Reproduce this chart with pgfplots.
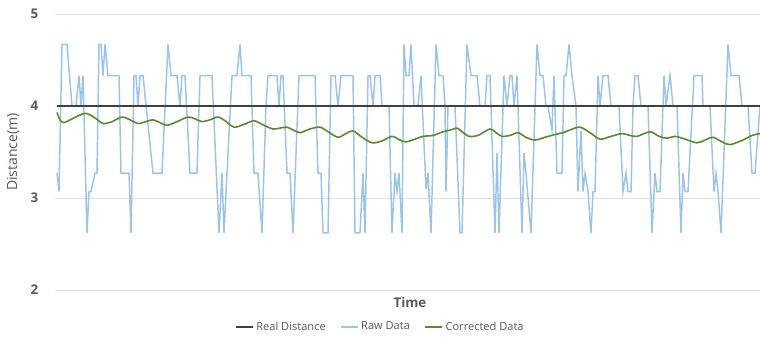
\documentclass[border=0pt]{standalone}
\usepackage{fontspec}
\setmainfont{Open Sans}
\usepackage{pgfplots}
\pgfplotsset{compat=1.18}
\definecolor{rawc}{HTML}{9DC3E6}
\definecolor{corc}{HTML}{5B8A2D}
\definecolor{realc}{HTML}{404040}
\definecolor{gridc}{HTML}{E3E3E3}
\definecolor{txtc}{HTML}{595959}
\begin{document}
\begin{tikzpicture}
\begin{axis}[
  at={(0,0)}, anchor=south west,
  scale only axis, width=528.75pt, height=207pt,
  xmin=55, xmax=760, ymin=2, ymax=5,
  ytick={2,3,4,5}, xtick=\empty,
  axis line style={draw=none},
  major tick length=0pt,
  ymajorgrids, grid style={gridc, line width=0.6pt},
  /pgf/number format/assume math mode=true,
  yticklabel style={font=\fontsize{10}{11}\selectfont\bfseries, text=txtc, anchor=east, xshift=-9pt},
  ylabel={Distance(m)},
  ylabel style={at={(axis description cs:-0.0596,0.5)}, anchor=center, font=\fontsize{10.5}{12}\selectfont, text=txtc},
  xlabel={Time},
  xlabel style={at={(axis description cs:0.5035,-0.047)}, anchor=center, font=\fontsize{10}{11}\selectfont\bfseries, text=txtc},
  legend columns=3,
  legend style={at={(axis description cs:0.462,-0.134)}, anchor=center, draw=none, fill=none,
    font=\fontsize{8.3}{9}\selectfont, text=txtc,
    /tikz/every even column/.append style={column sep=9pt}},
  legend image code/.code={\draw[#1] (0pt,0pt) -- (12.5pt,0pt);},
]
\addplot[rawc, line width=1.1pt, forget plot] coordinates {
(57,3.27)(59,3.07)(62,4.67)(67,4.67)(72,4.0)(76,4.0)(79,4.33)(81,4.0)(83,4.33)(87,2.62)
(89,3.07)(91,3.07)(95,3.27)(97,3.27)(99,4.67)(101,4.67)(103,4.33)(105,4.67)(108,4.33)(119,4.33)
(121,3.27)(129,3.27)(131,2.62)(134,4.33)(136,4.33)(138,4.0)(140,4.33)(143,4.33)(153,3.27)(162,3.27)
(168,4.67)(171,4.33)(177,4.33)(180,4.0)(182,4.33)(185,4.33)(190,3.27)(197,3.27)(200,4.33)(212,4.33)
(219,2.62)(222,3.27)(224,2.62)(227,3.27)(232,4.33)(237,4.33)(240,4.67)(242,4.33)(251,4.33)(254,3.27)
(258,3.27)(262,2.62)(266,4.0)(268,4.33)(277,4.33)(279,4.0)(281,4.33)(283,4.33)(287,3.27)(290,3.27)
(293,2.62)(299,4.33)(315,4.33)(318,3.27)(321,3.27)(323,2.62)(328,2.62)(331,4.33)(335,4.33)(338,4.0)
(341,4.33)(353,4.33)(355,2.62)(360,2.62)(363,3.27)(365,2.62)(368,4.33)(370,4.33)(373,4.0)(375,4.33)
(380,4.33)(382,4.0)(389,4.0)(392,2.62)(395,3.27)(397,3.07)(399,3.27)(402,2.62)(404,4.67)(406,4.33)
(409,4.33)(411,4.67)(414,4.0)(418,4.0)(421,4.33)(426,3.1)(428,3.27)(431,2.62)(436,4.67)(439,4.33)
(443,4.33)(445,4.0)(446,3.07)(448,4.0)(455,4.0)(460,2.62)(462,2.62)(467,4.67)(471,4.33)(477,4.33)
(480,4.0)(485,4.0)(487,4.33)(490,4.33)(495,2.62)(497,3.49)(499,2.62)(504,4.33)(507,4.0)(510,4.33)
(512,4.33)(514,4.0)(517,4.33)(522,2.62)(524,3.49)(526,3.27)(531,2.62)(537,4.67)(540,4.33)(543,4.33)
(546,4.0)(548,4.0)(552,3.74)(554,4.33)(557,3.27)(562,3.27)(564,4.33)(566,4.33)(569,4.67)(572,4.33)
(576,4.0)(578,3.07)(581,3.73)(583,3.07)(585,3.27)(588,3.07)(591,2.62)(593,3.07)(595,3.07)(598,4.33)
(600,4.0)(603,4.33)(608,4.33)(611,4.0)(619,4.0)(623,3.07)(626,3.27)(628,3.07)(631,3.07)(633,4.0)
(635,4.33)(638,4.33)(641,4.0)(648,4.0)(652,2.62)(655,3.27)(657,3.07)(660,3.07)(664,4.33)(666,4.0)
(670,4.33)(673,4.0)(677,4.0)(681,2.62)(683,3.27)(685,3.07)(688,3.07)(694,4.33)(702,4.33)(703,4.0)
(710,4.0)(714,3.07)(716,3.27)(718,3.07)(721,2.62)(728,4.67)(731,4.33)(739,4.33)(742,4.0)(748,4.0)
(752,3.27)(755,3.27)(760,4.0)
};
\addlegendimage{realc, line width=1.4pt}
\addlegendentry{Real Distance}
\addlegendimage{rawc, line width=1.1pt}
\addlegendentry{Raw Data}
\addlegendimage{corc, line width=1.2pt}
\addlegendentry{Corrected Data}
\addplot[realc, line width=1.4pt, forget plot] coordinates {(57,4.0)(760,4.0)};
\addplot[corc, line width=1.2pt, smooth, forget plot] coordinates {
(57,3.93)(60,3.85)(64,3.82)(72,3.86)(85,3.92)(95,3.87)(103,3.81)(112,3.83)(122,3.88)(130,3.85)
(138,3.81)(146,3.83)(153,3.85)(160,3.82)(167,3.79)(177,3.83)(188,3.88)(195,3.86)(202,3.83)(210,3.85)
(218,3.88)(225,3.84)(234,3.77)(244,3.80)(254,3.84)(262,3.80)(273,3.75)(280,3.76)(287,3.77)(293,3.74)
(300,3.71)(310,3.75)(320,3.77)(328,3.72)(338,3.66)(346,3.70)(353,3.73)(362,3.66)(372,3.60)(382,3.62)
(392,3.67)(400,3.63)(406,3.61)(415,3.64)(423,3.67)(433,3.68)(443,3.72)(451,3.74)(457,3.76)(462,3.72)
(469,3.67)(478,3.68)(490,3.75)(496,3.71)(502,3.67)(510,3.68)(518,3.71)(526,3.66)(535,3.63)(545,3.66)
(555,3.69)(563,3.71)(570,3.74)(580,3.77)(590,3.71)(600,3.64)(611,3.67)(622,3.70)(630,3.68)(637,3.67)
(650,3.72)(659,3.67)(667,3.65)(675,3.67)(685,3.64)(697,3.60)(705,3.63)(713,3.66)(722,3.61)(730,3.58)
(743,3.63)(752,3.68)(760,3.70)
};
\end{axis}
\pgfresetboundingbox
\path (-41.25pt,-39pt) rectangle (528.75pt,217.5pt);
\end{tikzpicture}
\end{document}
